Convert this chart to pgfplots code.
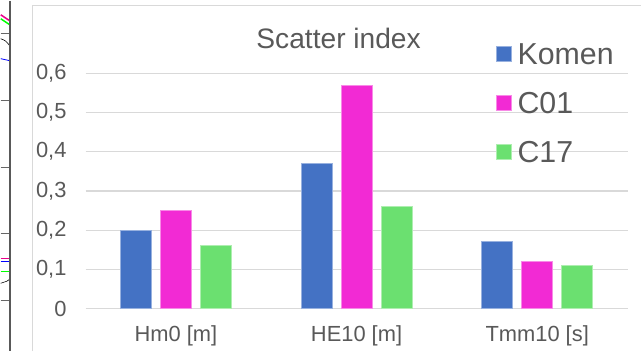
\documentclass[border=0pt]{standalone}
\usepackage{pgfplots}
\pgfplotsset{compat=1.18}
\usepackage{fontspec}
\setmainfont{Liberation Sans}
\definecolor{txt}{RGB}{89,89,89}
\definecolor{gridcol}{RGB}{217,217,217}
\definecolor{framecol}{RGB}{217,217,217}
\definecolor{cblue}{RGB}{68,114,196}
\definecolor{cpink}{RGB}{242,42,212}
\definecolor{cgreen}{RGB}{107,224,112}
\begin{document}
\begin{tikzpicture}
\path (0,0) rectangle (641bp,-351bp);
% cropped neighbour chart on the left
\foreach \yy in {33,100,167,233,300} \draw[gray!80!black, line width=1bp] (0,-\yy bp) -- (9bp,-\yy bp);
\draw[magenta, line width=1.5bp] (0,-14bp) -- (9bp,-20bp);
\draw[green, line width=1.5bp] (0,-18bp) -- (9bp,-24bp);
\draw[black, line width=0.6bp] (0,-38bp) .. controls (5bp,-40bp) .. (9bp,-45bp);
\draw[blue, line width=0.8bp] (0,-58bp) -- (9bp,-60bp);
\draw[magenta, line width=1.5bp] (0,-258bp) -- (9bp,-258bp);
\draw[blue, line width=1bp] (0,-261bp) -- (9bp,-261bp);
\draw[green, line width=1.5bp] (0,-271bp) -- (9bp,-271bp);
\draw[black, line width=0.6bp] (0,-283bp) -- (6bp,-281bp) -- (9bp,-279bp);
\draw[black!65, line width=1.6bp] (9.5bp,0) -- (9.5bp,-351bp);
% chart frame
\draw[framecol, line width=1bp] (32bp,-351bp) -- (32bp,-5bp) -- (641bp,-5bp);
\begin{axis}[
  at={(85bp,-308.3bp)}, anchor=south west, scale only axis,
  width=543bp, height=235.6bp,
  ymin=0, ymax=0.6, xmin=-0.5, xmax=2.5,
  enlarge x limits=false,
  ybar=9bp, bar width=31bp,
  axis line style={draw=none},
  major tick length=0pt,
  ytick={0,0.1,0.2,0.3,0.4,0.5,0.6},
  ymajorgrids, grid style={line width=1.2bp, color=gridcol},
  xtick={0,1,2}, xticklabels={Hm0 [m], HE10 [m], Tmm10 [s]},
  /pgf/number format/assume math mode=true,
  /pgf/number format/use comma,
  /pgf/number format/fixed,
  /pgf/number format/precision=1,
  tick label style={font=\fontsize{22}{26}\selectfont, text=txt},
  yticklabel style={anchor=east, inner sep=0pt, xshift=-19bp},
  xticklabel style={anchor=north, inner sep=0pt, text height=16bp, text depth=5bp, yshift=-16.7bp},
  legend cell align=left,
  legend style={at={(0.7569,1.1876)}, anchor=north west, draw=none, fill=none,
    inner sep=0pt, row sep=0pt, column sep=5.8bp,
    font=\fontsize{30.5}{36}\selectfont, text=txt,
    nodes={inner sep=0pt, text height=35.25bp, text depth=13.75bp}},
  legend image code/.code={\fill[#1] (0bp,-7.5bp) rectangle (15bp,7.5bp);},
]
\addplot[fill=cblue, draw=cblue!55!white, line width=0.8bp] coordinates {(0,0.20) (1,0.37) (2,0.17)};
\addplot[fill=cpink, draw=cpink!55!white, line width=0.8bp] coordinates {(0,0.25) (1,0.57) (2,0.12)};
\addplot[fill=cgreen, draw=cgreen!55!white, line width=0.8bp] coordinates {(0,0.16) (1,0.26) (2,0.11)};
\legend{Komen, C01, C17}
\end{axis}
\node[anchor=base, font=\fontsize{28.3}{34}\selectfont, text=txt, inner sep=0pt] at (338.5bp,-48bp) {Scatter index};
\end{tikzpicture}
\end{document}
